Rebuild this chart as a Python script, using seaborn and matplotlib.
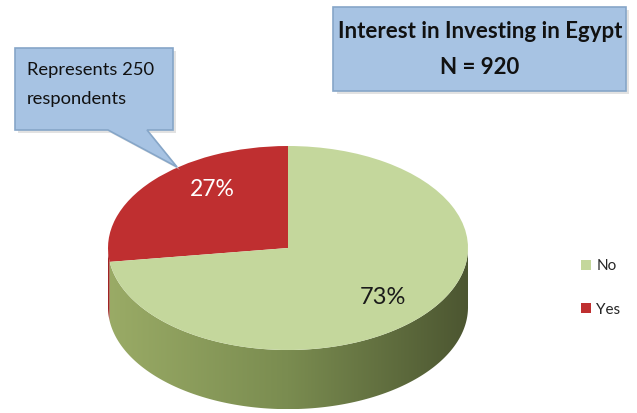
import numpy as np
import matplotlib
matplotlib.use("Agg")
import matplotlib.pyplot as plt
import seaborn as sns
from matplotlib.patches import Polygon, Rectangle
from matplotlib.colors import LinearSegmentedColormap

# ---- data ----
labels = ["Yes", "No"]
counts = [250, 670]
pct_labels = ["27%", "73%"]
legend_order = ["No", "Yes"]
title_lines = ["Interest in Investing in Egypt", "N = 920"]
callout_lines = ["Represents 250", "respondents"]

top_colors = {"Yes": "#bf2f30", "No": "#c4d79c"}
side_cmaps = {
    "Yes": ["#a02224", "#7a1618"],
    "No": ["#9aab66", "#7a8c50", "#4c5631"],
}

sns.set_theme(style="white")
plt.rcParams["font.family"] = ["Lato", "DejaVu Sans"]

W, H = 637, 413
fig = plt.figure(figsize=(W / 100, H / 100), dpi=100)
fig.patch.set_facecolor("white")

# pie axes: unit circle -> ellipse centred at pixel (288,250), rx=180, ry=102
cx, cy, rx, ry = 288, 248, 180, 102
depth = 0.58
ax = fig.add_axes([0, 0, 1, 1])
wedges, _ = ax.pie(counts, startangle=90, counterclock=True,
                   colors=[top_colors[l] for l in labels],
                   wedgeprops=dict(linewidth=0, zorder=5))
ax.set_aspect("auto")
ax.axis("off")

# 3D side walls, derived from wedge angles
for w, lab in zip(wedges, labels):
    a0, a1 = w.theta1 % 360, w.theta2 % 360
    if a1 <= a0:
        a1 += 360
    segs = []
    for lo, hi in [(180, 360), (540, 720)]:
        s, e = max(a0, lo), min(a1, hi)
        if e > s:
            segs.append((s, e))
    for s, e in segs:
        th = np.radians(np.linspace(s, e, 200))
        xs, ys = np.cos(th), np.sin(th)
        verts = np.concatenate([np.column_stack([xs, ys]),
                                np.column_stack([xs[::-1], ys[::-1] - depth])])
        poly = Polygon(verts, closed=True, facecolor="none", edgecolor="none")
        ax.add_patch(poly)
        cmap = LinearSegmentedColormap.from_list("s", side_cmaps[lab])
        grad = np.linspace(0, 1, 256).reshape(1, -1)
        im = ax.imshow(grad, cmap=cmap, extent=(-1, 1, -1 - depth, 0),
                       aspect="auto", zorder=2, origin="lower")
        im.set_clip_path(poly)
ax.set_aspect("auto")
ax.set_xlim((0 - cx) / rx, (W - cx) / rx)
ax.set_ylim((cy - H) / ry, cy / ry)

# percentage labels
ax.text((212 - cx) / rx, (cy - 190) / ry, pct_labels[0], color="white",
        fontsize=16.5, ha="center", va="center", zorder=10)
ax.text((383 - cx) / rx, (cy - 297) / ry, pct_labels[1], color="#1a1a1a",
        fontsize=17, ha="center", va="center", zorder=10)

# overlay axes in pixel coordinates for boxes
ov = fig.add_axes([0, 0, 1, 1], zorder=5)
ov.set_xlim(0, W)
ov.set_ylim(H, 0)
ov.axis("off")
ov.patch.set_alpha(0)

# title box with shadow
ov.add_patch(Rectangle((337, 10), 292, 84, facecolor="#d0d0d0", edgecolor="none", alpha=0.6))
ov.add_patch(Rectangle((333, 7), 293, 84, facecolor="#a7c3e3", edgecolor="#86a6c8", linewidth=1.2))
ov.text(480, 32, title_lines[0], fontsize=16, fontweight="bold", ha="center", va="center", color="#111111")
ov.text(480, 68, title_lines[1], fontsize=16, fontweight="bold", ha="center", va="center", color="#111111")

# callout
call = [(15, 48), (173, 48), (173, 130), (147, 130), (177, 167), (108, 130), (15, 130)]
ov.add_patch(Polygon([(x + 3, y + 3) for x, y in call], closed=True,
                     facecolor="#d0d0d0", edgecolor="none", alpha=0.6))
ov.add_patch(Polygon(call, closed=True, facecolor="#a7c3e3", edgecolor="#86a6c8", linewidth=1.2))
ov.text(27, 70, callout_lines[0], fontsize=13.2, ha="left", va="center", color="#111111")
ov.text(27, 99, callout_lines[1], fontsize=13.2, ha="left", va="center", color="#111111")

# legend
handles = [wedges[labels.index(l)] for l in legend_order]
leg = ax.legend(handles, legend_order, loc="center left",
                bbox_to_anchor=(575 / W, 1 - 288 / H), frameon=False,
                fontsize=11, handlelength=0.65, handleheight=0.65,
                labelspacing=1.9, handletextpad=0.35, borderaxespad=0)

fig.savefig("out.png", dpi=100, facecolor="white")
